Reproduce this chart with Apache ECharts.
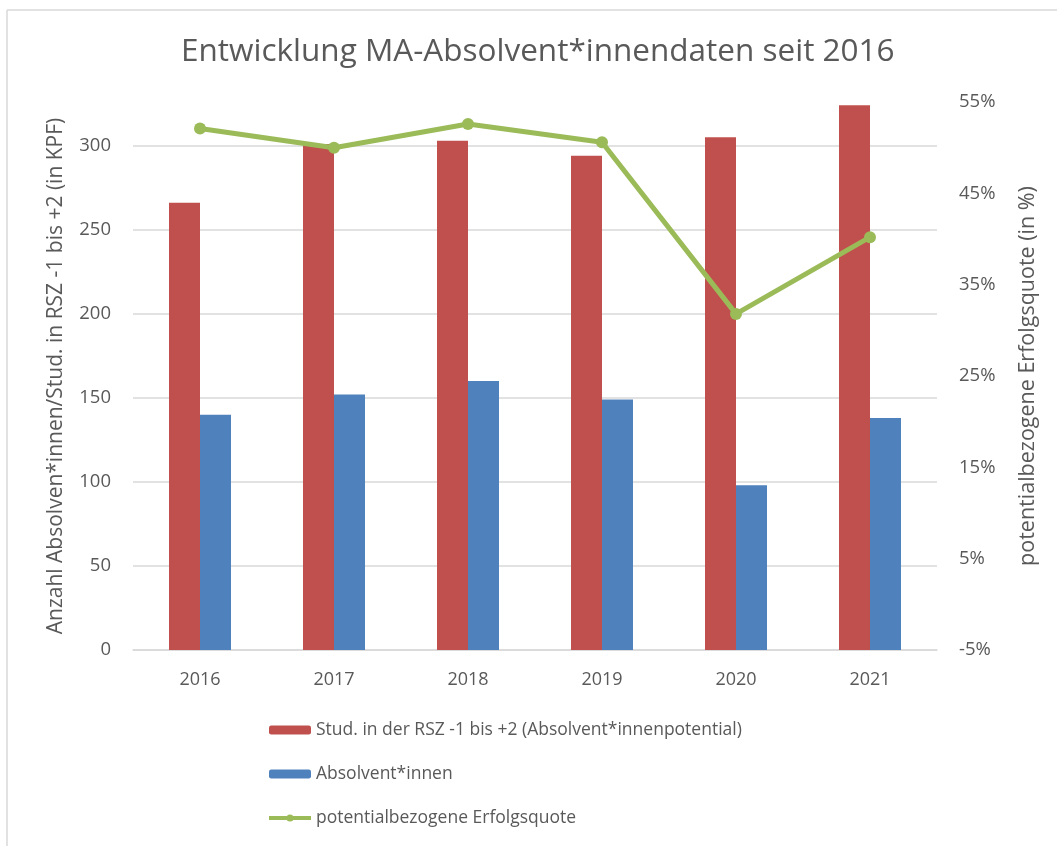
<!DOCTYPE html>
<html>
<head>
<meta charset="utf-8">
<script src="https://cdn.jsdelivr.net/npm/echarts@6/dist/echarts.min.js"></script>
<style>html,body{margin:0;padding:0;background:#fff}#c{width:1057px;height:846px}</style>
</head>
<body>
<div id="c"></div>
<script>
const categories = ['2016', '2017', '2018', '2019', '2020', '2021'];
const potentialValues = [266, 301, 303, 294, 305, 324];
const graduateValues = [140, 152, 160, 149, 98, 138];
const successRate = [52.1, 50.0, 52.6, 50.6, 31.8, 40.2];
const seriesNames = ['Stud. in der RSZ -1 bis +2 (Absolvent*innenpotential)', 'Absolvent*innen', 'potentialbezogene Erfolgsquote'];
const titleText = 'Entwicklung MA-Absolvent*innendaten seit 2016';
const leftAxisName = 'Anzahl Absolven*innen/Stud. in RSZ -1 bis +2 (in KPF)';
const rightAxisName = 'potentialbezogene Erfolgsquote (in %)';

const FONT = 'Open Sans';
const TXT = '#595959';
const chart = echarts.init(document.getElementById('c'), null, {renderer: 'canvas'});
chart.setOption({
  backgroundColor: '#fff',
  animation: false,
  textStyle: {fontFamily: FONT},
  title: {
    text: titleText, left: 176, top: 31,
    textStyle: {fontFamily: FONT, fontSize: 31.5, fontWeight: 'normal', color: TXT}
  },
  graphic: [
    {type: 'line', shape: {x1: 7, y1: 10, x2: 1057, y2: 10}, style: {stroke: '#d9d9d9', lineWidth: 1.5}},
    {type: 'line', shape: {x1: 7, y1: 10, x2: 7, y2: 846}, style: {stroke: '#d9d9d9', lineWidth: 1.5}}
  ],
  legend: {
    orient: 'vertical', left: 262, top: 716,
    itemWidth: 42, itemHeight: 9, itemGap: 26,
    textStyle: {fontFamily: FONT, fontSize: 17.5, color: TXT},
    data: [
      {name: seriesNames[0]},
      {name: seriesNames[1]},
      {name: seriesNames[2], lineStyle: {width: 4}}
    ]
  },
  grid: {left: 133, right: 120, top: 102, bottom: 196, containLabel: false},
  xAxis: {
    type: 'category', data: categories,
    axisLine: {show: true, lineStyle: {color: '#d9d9d9', width: 1.5}},
    axisTick: {show: false},
    axisLabel: {color: TXT, fontSize: 18, margin: 21, fontFamily: FONT}
  },
  yAxis: [
    {
      type: 'value', min: 0, max: 326, interval: 50,
      name: leftAxisName, nameLocation: 'middle', nameRotate: 90, nameGap: 66,
      nameTextStyle: {color: TXT, fontSize: 21, fontFamily: FONT},
      axisLine: {show: false}, axisTick: {show: false},
      axisLabel: {color: TXT, fontSize: 18.5, margin: 22, showMaxLabel: false, fontFamily: FONT},
      splitLine: {show: true, showMaxLine: false, lineStyle: {color: '#d9d9d9', width: 1.5}}
    },
    {
      type: 'value', min: -5, max: 55, interval: 10, position: 'right',
      name: rightAxisName, nameLocation: 'middle', nameRotate: 90, nameGap: 80,
      nameTextStyle: {color: TXT, fontSize: 21.5, fontFamily: FONT},
      axisLine: {show: false}, axisTick: {show: false},
      axisLabel: {color: TXT, fontSize: 18.5, margin: 22, formatter: v => Math.round(v) + '%', fontFamily: FONT},
      splitLine: {show: false}
    }
  ],
  series: [
    {name: seriesNames[0], type: 'bar', data: potentialValues, barWidth: 31, barGap: '0%',
     itemStyle: {color: '#C0504D'}},
    {name: seriesNames[1], type: 'bar', data: graduateValues, barWidth: 31, barGap: '0%',
     itemStyle: {color: '#4F81BD'}},
    {name: seriesNames[2], type: 'line', yAxisIndex: 1, data: successRate,
     symbol: 'circle', symbolSize: 12,
     lineStyle: {color: '#9BBB59', width: 5}, itemStyle: {color: '#9BBB59'}}
  ]
});
</script>
</body>
</html>
